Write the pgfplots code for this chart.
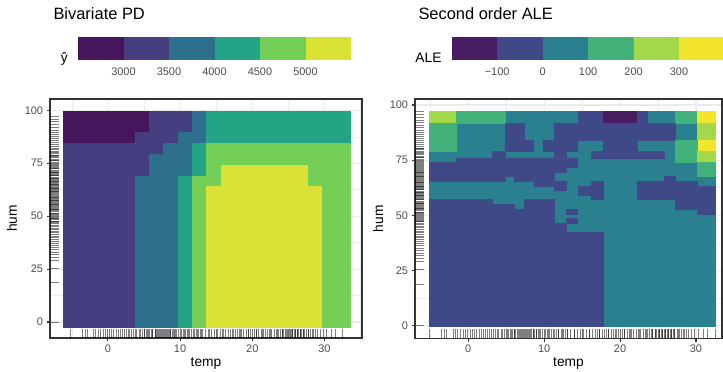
\documentclass[border=0pt]{standalone}
\usepackage{pgfplots}
\usepackage{pgfplotstable}
\pgfplotsset{compat=1.18}
\usepackage{fontspec}
\setmainfont{Liberation Sans}

\definecolor{grey20}{HTML}{333333}
\definecolor{grey30}{HTML}{4D4D4D}
\definecolor{grey92}{HTML}{EBEBEB}
% left (PD) palette
\definecolor{La}{RGB}{70,22,92}
\definecolor{Lb}{RGB}{69,62,128}
\definecolor{Lc}{RGB}{45,112,142}
\definecolor{Ld}{RGB}{35,164,133}
\definecolor{Le}{RGB}{115,207,86}
\definecolor{Lf}{RGB}{219,226,54}
% right (ALE) palette
\definecolor{Ra}{RGB}{72,28,96}
\definecolor{Rb}{RGB}{64,73,136}
\definecolor{Rc}{RGB}{42,128,142}
\definecolor{Rd}{RGB}{66,178,122}
\definecolor{Re}{RGB}{163,216,72}
\definecolor{Rf}{RGB}{243,229,46}

% rug positions
\pgfplotstableread{
t
-5.2
-3.5
-3.2
-2.9
-2.0
-1.7
-1.4
-1.0
-0.7
-0.4
-0.1
0.2
0.5
0.8
1.1
1.4
1.7
2.0
2.3
2.5
2.8
3.0
3.3
3.5
3.8
4.0
4.3
4.5
4.8
5.0
5.3
5.5
5.8
6.0
6.2
6.5
6.7
6.9
7.1
7.3
7.5
7.7
7.9
8.1
8.3
8.5
8.7
8.9
9.2
9.5
9.8
10.1
10.4
10.7
11.0
11.3
11.6
11.9
12.2
12.5
12.8
13.1
13.5
13.9
14.3
14.7
15.1
15.5
15.9
16.3
16.7
17.0
17.3
17.6
17.9
18.2
18.5
18.8
19.1
19.4
19.7
20.0
20.3
20.6
20.9
21.2
21.5
21.8
22.1
22.4
22.7
23.0
23.3
23.6
23.9
24.1
24.3
24.6
24.8
25.0
25.2
25.4
25.6
25.8
26.0
26.2
26.4
26.6
26.8
27.0
27.2
27.5
27.8
28.1
28.4
28.7
29.0
29.4
29.8
30.3
30.9
31.5
32.5
5.1
5.6
6.1
6.6
7.0
7.4
7.8
8.2
8.6
9.0
9.4
10.0
10.6
11.2
11.8
12.4
13.0
14.0
15.0
16.0
17.2
18.4
19.5
20.5
21.4
22.5
23.5
24.2
24.7
25.1
25.5
25.9
26.3
26.7
27.1
27.7
28.3
}\temprug

\pgfplotstableread{
h
0
18.8
25.4
29.2
30.5
31.8
33.0
34.2
35.3
36.3
37.2
38.1
39.0
39.9
40.7
41.5
42.3
43.0
43.7
44.4
45.1
45.8
46.5
47.1
47.7
48.3
48.9
49.5
50.1
50.6
51.1
51.6
52.1
52.6
53.1
53.6
54.1
54.6
55.1
55.6
56.1
56.6
57.1
57.6
58.1
58.6
59.1
59.6
60.1
60.6
61.1
61.6
62.1
62.6
63.1
63.6
64.1
64.6
65.1
65.6
66.1
66.6
67.1
67.6
68.1
68.6
69.1
69.6
70.1
70.6
71.2
71.8
72.4
73.0
73.6
74.2
74.8
75.5
76.2
76.9
77.6
78.3
79.0
79.8
80.6
81.4
82.2
83.0
83.9
84.8
85.7
86.6
87.6
88.6
89.7
90.8
92.0
93.3
94.6
96.0
97.2
47.4
49.2
51.4
53.4
55.4
57.4
58.9
60.4
61.9
63.4
64.9
66.4
67.9
69.4
70.9
72.7
74.5
76.5
78.6
80.2
}\humrug

\pgfplotsset{
  tile/.style={fill=#1, draw=#1, line width=0.3bp, mark=none},
  rugx/.style={only marks, mark=|, mark size=4.5bp,
    mark options={draw=black, draw opacity=0.5, line width=0.55bp}},
  rugy/.style={only marks, mark=-, mark size=4.5bp,
    mark options={draw=black, draw opacity=0.5, line width=0.55bp}},
  panel/.style={
    scale only axis, anchor=south west,
    axis line style={draw=grey20, line width=1.1bp},
    tick style={draw=grey20, line width=1.1bp},
    tick align=outside, major tick length=3.4bp, minor tick length=0pt,
    tick pos=left,
    grid=both,
    major grid style={draw=grey92, line width=1.1bp},
    minor grid style={draw=grey92, line width=0.55bp},
    ticklabel style={font=\fontsize{11}{12}\selectfont, text=grey30},
    /pgf/number format/assume math mode=true,
    xtick={0,10,20,30}, ytick={0,25,50,75,100},
    minor ytick={12.5,37.5,62.5,87.5},
    every axis x label/.style={at={(axis description cs:0.5,0)}, anchor=base, yshift=-28bp,
      font=\fontsize{13.8}{15}\selectfont},
    every axis title/.style={at={(axis description cs:0,1)}, anchor=base west, yshift=79bp,
      font=\fontsize{16.5}{18}\selectfont},
    xlabel={temp}, ylabel={hum},
  },
  legbar/.style={
    scale only axis, anchor=south west,
    ymin=0, ymax=1, axis line style={draw=none},
    major tick length=0pt, ytick=\empty, tick style={draw=none},
    ticklabel style={font=\fontsize{11}{12}\selectfont, text=grey30},
    xticklabel style={anchor=base, yshift=-16bp},
    every axis y label/.style={at={(axis description cs:0,0)}, anchor=base east,
      xshift=-6.7bp, yshift=-3bp, font=\fontsize{13.8}{15}\selectfont},
  },
}

\begin{document}
\begin{tikzpicture}
\useasboundingbox (0,0) rectangle (723bp,372bp);

% ---------------- left panel: Bivariate PD ----------------
\begin{axis}[panel, at={(50bp,34bp)}, width=312bp, height=239bp,
  xmin=-8.02, xmax=35.2, ymin=-7.55, ymax=105.35,
  minor xtick={-5,5,15,25,35},
  every axis y label/.style={at={(axis description cs:-0.1058,0.5)}, rotate=90, anchor=base,
      font=\fontsize{13.8}{15}\selectfont},
  title={Bivariate PD}]
\addplot[tile=La] coordinates {(-6.21,89.57)(5.70,89.57)(5.70,99.81)(-6.21,99.81)};
\addplot[tile=La] coordinates {(-6.21,84.45)(3.72,84.45)(3.72,89.57)(-6.21,89.57)};
\addplot[tile=Lb] coordinates {(5.70,89.57)(11.66,89.57)(11.66,99.81)(5.70,99.81)};
\addplot[tile=Lb] coordinates {(3.72,84.45)(9.67,84.45)(9.67,89.57)(3.72,89.57)};
\addplot[tile=Lb] coordinates {(-6.21,79.34)(7.69,79.34)(7.69,84.45)(-6.21,84.45)};
\addplot[tile=Lb] coordinates {(-6.21,69.10)(5.70,69.10)(5.70,79.34)(-6.21,79.34)};
\addplot[tile=Lb] coordinates {(-6.21,-2.56)(3.72,-2.56)(3.72,69.10)(-6.21,69.10)};
\addplot[tile=Lc] coordinates {(11.66,89.57)(13.64,89.57)(13.64,99.81)(11.66,99.81)};
\addplot[tile=Lc] coordinates {(9.67,84.45)(13.64,84.45)(13.64,89.57)(9.67,89.57)};
\addplot[tile=Lc] coordinates {(7.69,79.34)(11.66,79.34)(11.66,84.45)(7.69,84.45)};
\addplot[tile=Lc] coordinates {(5.70,69.10)(11.66,69.10)(11.66,79.34)(5.70,79.34)};
\addplot[tile=Lc] coordinates {(3.72,-2.56)(9.67,-2.56)(9.67,69.10)(3.72,69.10)};
\addplot[tile=Ld] coordinates {(13.64,84.45)(33.49,84.45)(33.49,99.81)(13.64,99.81)};
\addplot[tile=Ld] coordinates {(11.66,69.10)(13.64,69.10)(13.64,84.45)(11.66,84.45)};
\addplot[tile=Ld] coordinates {(9.67,-2.56)(11.66,-2.56)(11.66,69.10)(9.67,69.10)};
\addplot[tile=Le] coordinates {(13.64,74.22)(33.49,74.22)(33.49,84.45)(13.64,84.45)};
\addplot[tile=Le] coordinates {(13.64,69.10)(15.63,69.10)(15.63,74.22)(13.64,74.22)};
\addplot[tile=Le] coordinates {(27.54,63.98)(33.49,63.98)(33.49,74.22)(27.54,74.22)};
\addplot[tile=Le] coordinates {(11.66,63.98)(15.63,63.98)(15.63,69.10)(11.66,69.10)};
\addplot[tile=Le] coordinates {(11.66,-2.56)(13.64,-2.56)(13.64,63.98)(11.66,63.98)};
\addplot[tile=Le] coordinates {(29.52,-2.56)(33.49,-2.56)(33.49,63.98)(29.52,63.98)};
\addplot[tile=Lf] coordinates {(15.63,63.98)(27.54,63.98)(27.54,74.22)(15.63,74.22)};
\addplot[tile=Lf] coordinates {(13.64,-2.56)(29.52,-2.56)(29.52,63.98)(13.64,63.98)};
\addplot[rugx] table[x index=0, y index=0, y expr=-5.43] {\temprug};
\addplot[rugy] table[x index=0, y index=0, x expr=-7.40] {\humrug};
\end{axis}

% legend of left panel
\begin{axis}[legbar, at={(78bp,312bp)}, width=273bp, height=23.3bp,
  xmin=2500, xmax=5500,
  xtick={3000,3500,4000,4500,5000}, xticklabels={3000,3500,4000,4500,5000},
  ylabel={ŷ}]
\addplot[tile=La] coordinates {(2500,0)(3000,0)(3000,1)(2500,1)};
\addplot[tile=Lb] coordinates {(3000,0)(3500,0)(3500,1)(3000,1)};
\addplot[tile=Lc] coordinates {(3500,0)(4000,0)(4000,1)(3500,1)};
\addplot[tile=Ld] coordinates {(4000,0)(4500,0)(4500,1)(4000,1)};
\addplot[tile=Le] coordinates {(4500,0)(5000,0)(5000,1)(4500,1)};
\addplot[tile=Lf] coordinates {(5000,0)(5500,0)(5500,1)(5000,1)};
\end{axis}

% ---------------- right panel: Second order ALE ----------------
\begin{axis}[panel, at={(415bp,33.7bp)}, width=307bp, height=239.3bp,
  xmin=-7.02, xmax=33.43, ymin=-5.71, ymax=102.72,
  minor xtick={-5,5,15,25},
  every axis y label/.style={at={(axis description cs:-0.1042,0.5)}, rotate=90, anchor=base,
      font=\fontsize{13.8}{15}\selectfont},
  title={Second order ALE}]
% background teal and large indigo block
\addplot[tile=Rc] coordinates {(-5.2,0)(32.5,0)(32.5,97.3)(-5.2,97.3)};
\addplot[tile=Rb] coordinates {(-5.2,0)(17.8,0)(17.8,42.3)(-5.2,42.3)};
% row 92.0-97.3
\addplot[tile=Re] coordinates {(-5.2,92.0)(-1.6,92.0)(-1.6,97.3)(-5.2,97.3)};
\addplot[tile=Rd] coordinates {(-1.6,92.0)(4.8,92.0)(4.8,97.3)(-1.6,97.3)};
\addplot[tile=Rb] coordinates {(14.4,92.0)(17.8,92.0)(17.8,97.3)(14.4,97.3)};
\addplot[tile=Ra] coordinates {(17.8,92.0)(22.2,92.0)(22.2,97.3)(17.8,97.3)};
\addplot[tile=Rb] coordinates {(22.2,92.0)(23.6,92.0)(23.6,97.3)(22.2,97.3)};
\addplot[tile=Rd] coordinates {(27.2,92.0)(30.2,92.0)(30.2,97.3)(27.2,97.3)};
\addplot[tile=Rf] coordinates {(30.2,92.0)(32.5,92.0)(32.5,97.3)(30.2,97.3)};
% row 84.1-92.0
\addplot[tile=Rd] coordinates {(-5.2,84.1)(-1.6,84.1)(-1.6,92.0)(-5.2,92.0)};
\addplot[tile=Rb] coordinates {(4.8,84.1)(7.3,84.1)(7.3,92.0)(4.8,92.0)};
\addplot[tile=Rb] coordinates {(11.3,84.1)(27.2,84.1)(27.2,92.0)(11.3,92.0)};
\addplot[tile=Re] coordinates {(30.2,84.1)(32.5,84.1)(32.5,92.0)(30.2,92.0)};
% row 79.2-84.1
\addplot[tile=Rd] coordinates {(-5.2,79.2)(-1.6,79.2)(-1.6,84.1)(-5.2,84.1)};
\addplot[tile=Rb] coordinates {(4.8,79.2)(8.6,79.2)(8.6,84.1)(4.8,84.1)};
\addplot[tile=Rb] coordinates {(9.9,79.2)(14.4,79.2)(14.4,84.1)(9.9,84.1)};
\addplot[tile=Rb] coordinates {(17.8,79.2)(22.2,79.2)(22.2,84.1)(17.8,84.1)};
\addplot[tile=Rf] coordinates {(30.2,79.2)(32.5,79.2)(32.5,84.1)(30.2,84.1)};
\addplot[tile=Rd] coordinates {(27.2,73.9)(30.2,73.9)(30.2,84.1)(27.2,84.1)};
% row 75.9-79.2
\addplot[tile=Rb] coordinates {(3.1,75.9)(4.8,75.9)(4.8,79.2)(3.1,79.2)};
\addplot[tile=Rb] coordinates {(11.3,75.9)(12.9,75.9)(12.9,79.2)(11.3,79.2)};
\addplot[tile=Rb] coordinates {(16.2,75.9)(25.8,75.9)(25.8,79.2)(16.2,79.2)};
\addplot[tile=Re] coordinates {(30.2,73.9)(32.5,73.9)(32.5,79.2)(30.2,79.2)};
% rows 67.8-75.9
\addplot[tile=Rb] coordinates {(-1.6,73.9)(14.4,73.9)(14.4,75.9)(-1.6,75.9)};
\addplot[tile=Rb] coordinates {(-5.2,71.8)(14.4,71.8)(14.4,73.9)(-5.2,73.9)};
\addplot[tile=Rb] coordinates {(-5.2,69.8)(12.9,69.8)(12.9,71.8)(-5.2,71.8)};
\addplot[tile=Rb] coordinates {(-5.2,67.8)(11.3,67.8)(11.3,69.8)(-5.2,69.8)};
\addplot[tile=Rd] coordinates {(30.2,67.8)(32.5,67.8)(32.5,73.9)(30.2,73.9)};
% row 65.6-67.8
\addplot[tile=Rb] coordinates {(-5.2,65.6)(4.8,65.6)(4.8,67.8)(-5.2,67.8)};
\addplot[tile=Rb] coordinates {(6.0,65.6)(11.3,65.6)(11.3,67.8)(6.0,67.8)};
\addplot[tile=Rb] coordinates {(25.8,65.6)(27.2,65.6)(27.2,67.8)(25.8,67.8)};
% rows 57.4-65.6
\addplot[tile=Rb] coordinates {(8.6,63.4)(11.3,63.4)(11.3,65.6)(8.6,65.6)};
\addplot[tile=Rb] coordinates {(11.3,61.5)(12.9,61.5)(12.9,65.6)(11.3,65.6)};
\addplot[tile=Rb] coordinates {(16.2,57.4)(17.8,57.4)(17.8,65.6)(16.2,65.6)};
\addplot[tile=Rb] coordinates {(14.4,59.2)(16.2,59.2)(16.2,63.4)(14.4,63.4)};
\addplot[tile=Rb] coordinates {(22.2,63.4)(30.2,63.4)(30.2,65.6)(22.2,65.6)};
\addplot[tile=Rb] coordinates {(22.2,57.4)(32.5,57.4)(32.5,63.4)(22.2,63.4)};
% rows 42.3-57.4
\addplot[tile=Rb] coordinates {(-5.2,55.1)(3.1,55.1)(3.1,57.4)(-5.2,57.4)};
\addplot[tile=Rb] coordinates {(-5.2,52.9)(6.0,52.9)(6.0,55.1)(-5.2,55.1)};
\addplot[tile=Rb] coordinates {(7.3,52.9)(11.3,52.9)(11.3,57.4)(7.3,57.4)};
\addplot[tile=Rb] coordinates {(27.2,52.9)(32.5,52.9)(32.5,57.4)(27.2,57.4)};
\addplot[tile=Rb] coordinates {(30.2,50.6)(32.5,50.6)(32.5,52.9)(30.2,52.9)};
\addplot[tile=Rb] coordinates {(12.9,50.6)(14.4,50.6)(14.4,52.9)(12.9,52.9)};
\addplot[tile=Rb] coordinates {(-5.2,42.3)(11.3,42.3)(11.3,52.9)(-5.2,52.9)};
\addplot[tile=Rb] coordinates {(12.9,46.4)(14.4,46.4)(14.4,48.7)(12.9,48.7)};
\addplot[tile=Rb] coordinates {(11.3,42.3)(12.9,42.3)(12.9,46.4)(11.3,46.4)};
\addplot[rugx] table[x index=0, y index=0, y expr=-3.67] {\temprug};
\addplot[rugy] table[x index=0, y index=0, x expr=-6.43] {\humrug};
\end{axis}

% legend of right panel
\begin{axis}[legbar, at={(451.7bp,312bp)}, width=272.8bp, height=23.3bp,
  xmin=-200, xmax=400,
  xtick={-100,0,100,200,300}, xticklabels={−100,0,100,200,300},
  ylabel={ALE}]
\addplot[tile=Ra] coordinates {(-200,0)(-100,0)(-100,1)(-200,1)};
\addplot[tile=Rb] coordinates {(-100,0)(0,0)(0,1)(-100,1)};
\addplot[tile=Rc] coordinates {(0,0)(100,0)(100,1)(0,1)};
\addplot[tile=Rd] coordinates {(100,0)(200,0)(200,1)(100,1)};
\addplot[tile=Re] coordinates {(200,0)(300,0)(300,1)(200,1)};
\addplot[tile=Rf] coordinates {(300,0)(400,0)(400,1)(300,1)};
\end{axis}
\end{tikzpicture}
\end{document}
